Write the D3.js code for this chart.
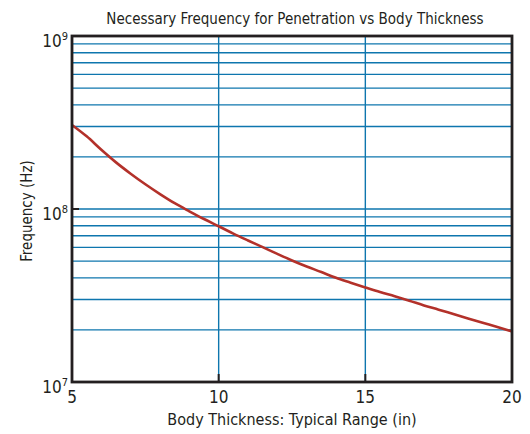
<!DOCTYPE html>
<html>
<head>
<meta charset="utf-8">
<script src="https://cdn.jsdelivr.net/npm/d3@7"></script>
<style>
  body { margin: 0; background: #fff; }
  text { font-family: 'Liberation Sans Narrow', 'DejaVu Sans Condensed', sans-serif; fill: #231f20; }
</style>
</head>
<body>
<svg id="chart" width="530" height="434"></svg>
<script>
// body thickness (in) and the frequency needed (Hz)
var thickness = [5, 5.5, 6, 6.5, 7, 7.5, 8, 8.5, 9, 9.5, 10, 10.5, 11, 11.5, 12, 12.5,
    13, 13.5, 14, 14.5, 15, 15.5, 16, 16.5, 17, 17.5, 18, 18.5, 19, 19.5, 20]
var frequency = [3.06e8, 2.63e8, 2.2e8, 1.86e8, 1.6e8, 1.39e8, 1.22e8, 1.08e8, 9.7e7, 8.75e7,
    7.95e7, 7.21e7, 6.58e7, 6.02e7, 5.5e7, 5.04e7, 4.65e7, 4.32e7, 4.0e7, 3.75e7, 3.52e7,
    3.31e7, 3.13e7, 2.95e7, 2.77e7, 2.62e7, 2.47e7, 2.33e7, 2.2e7, 2.08e7, 1.96e7]

var xTicks = [5, 10, 15, 20]
var yDecades = [1e7, 1e8, 1e9]
var yGrid = [2e7, 3e7, 4e7, 5e7, 6e7, 7e7, 8e7, 9e7, 1e8, 2e8, 3e8, 4e8, 5e8, 6e8, 7e8, 8e8, 9e8]

var margin = {left: 72, right: 18, top: 36, bottom: 52}
var width = 530, height = 434

var svg = d3.select('#chart')

var x = d3.scaleLinear().domain([5, 20]).range([margin.left, width - margin.right])
var y = d3.scaleLog().domain([1e7, 1e9]).range([height - margin.bottom, margin.top])

var gridColor = '#0e76ae'

svg.append('g').selectAll('line').data(yGrid).join('line')
    .attr('x1', x(5)).attr('x2', x(20))
    .attr('y1', d => y(d)).attr('y2', d => y(d))
    .attr('stroke', gridColor)
    .attr('stroke-width', 1.4)

svg.append('g').selectAll('line').data([10, 15]).join('line')
    .attr('x1', d => x(d)).attr('x2', d => x(d))
    .attr('y1', y(1e9)).attr('y2', y(1e7))
    .attr('stroke', gridColor)
    .attr('stroke-width', 1.4)

// small black ticks on the inside of the frame
svg.append('g').selectAll('line').data(yDecades).join('line')
    .attr('x1', x(5)).attr('x2', x(5) + 7)
    .attr('y1', d => y(d)).attr('y2', d => y(d))
    .attr('stroke', '#231f20')
    .attr('stroke-width', 2)

svg.append('g').selectAll('line').data(xTicks).join('line')
    .attr('x1', d => x(d)).attr('x2', d => x(d))
    .attr('y1', y(1e7)).attr('y2', y(1e7) - 8)
    .attr('stroke', '#231f20')
    .attr('stroke-width', 2)

var line = d3.line()
    .x((d, i) => x(thickness[i]))
    .y(d => y(d))
    .curve(d3.curveMonotoneX)

svg.append('path')
    .datum(frequency)
    .attr('d', line)
    .attr('fill', 'none')
    .attr('stroke', '#b3312a')
    .attr('stroke-width', 2.6)

svg.append('rect')
    .attr('x', x(5)).attr('y', y(1e9))
    .attr('width', x(20) - x(5)).attr('height', y(1e7) - y(1e9))
    .attr('fill', 'none')
    .attr('stroke', '#231f20')
    .attr('stroke-width', 2.8)

// tick labels
svg.append('g').selectAll('text').data(xTicks).join('text')
    .text(d => d)
    .attr('x', d => x(d))
    .attr('y', 403)
    .attr('text-anchor', 'middle')
    .attr('font-size', '17px')

var yLab = svg.append('g').selectAll('text').data(yDecades).join('text')
    .attr('x', x(5) - 4)
    .attr('y', d => y(d) + 11)
    .attr('text-anchor', 'end')
    .attr('font-size', '17px')
yLab.append('tspan').text('10')
yLab.append('tspan').text(d => Math.round(Math.log10(d)))
    .attr('font-size', '11px')
    .attr('dy', -7)

svg.append('text')
    .text('Necessary Frequency for Penetration vs Body Thickness')
    .attr('x', 295)
    .attr('y', 24)
    .attr('text-anchor', 'middle')
    .attr('font-size', '15px')

svg.append('text')
    .text('Body Thickness: Typical Range (in)')
    .attr('x', x(12.5))
    .attr('y', 425)
    .attr('text-anchor', 'middle')
    .attr('font-size', '16px')

svg.append('text')
    .text('Frequency (Hz)')
    .attr('transform', 'translate(32,211) rotate(-90)')
    .attr('text-anchor', 'middle')
    .attr('font-size', '15px')
</script>
</body>
</html>
